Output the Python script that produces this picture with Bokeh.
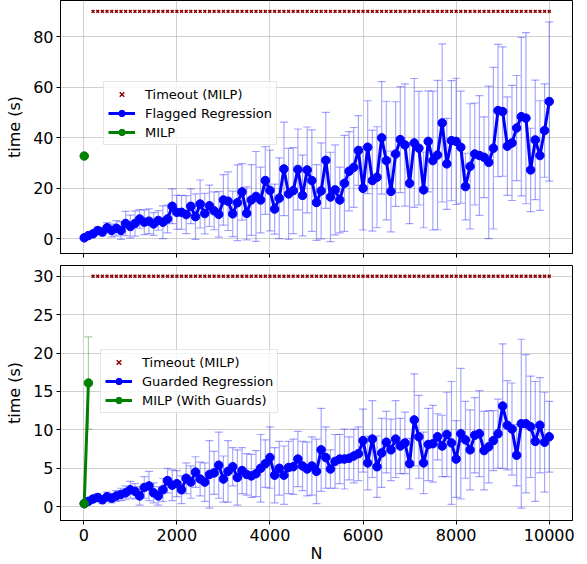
from bokeh.plotting import figure
from bokeh.layouts import column
from bokeh.models import Range1d, Legend, LegendItem, FixedTicker, ColumnDataSource
from bokeh.embed import file_html
from bokeh.resources import INLINE

# ---------------- data ----------------
n_values = [10] + list(range(100, 10001, 100))
timeout_n = list(range(200, 10001, 100))
timeout_top = 90
timeout_bottom = 30

flagged_mean = [
    0.3, 1.2, 1.9, 3.2, 2.6, 4.3, 3.2, 4.1, 3.2, 6.0,
    4.8, 6.0, 7.8, 6.5, 6.9, 5.8, 7.2, 6.5, 7.8, 12.8,
    10.4, 10.4, 9.5, 12.8, 8.7, 13.7, 9.9, 13.0, 11.0, 9.6,
    15.3, 14.8, 9.8, 14.2, 18.5, 10.0, 15.3, 16.7, 15.3, 23.0,
    19.1, 11.7, 16.0, 27.6, 17.7, 19.0, 27.4, 17.1, 27.2, 23.0,
    14.3, 18.9, 31.0, 16.5, 19.3, 15.3, 21.9, 26.7, 28.2, 34.9,
    19.9, 36.2, 23.0, 24.3, 39.9, 30.9, 18.7, 33.5, 39.2, 37.1,
    21.9, 37.9, 35.8, 19.3, 38.5, 30.9, 33.1, 45.8, 29.6, 38.8,
    38.5, 36.2, 20.6, 28.6, 33.5, 32.9, 32.2, 30.2, 35.8, 50.7,
    50.3, 36.6, 37.9, 43.8, 48.3, 47.7, 27.2, 39.1, 32.9, 42.8,
    54.3,
]
flagged_err = [
    0.3, 0.6, 1.0, 1.3, 1.5, 2.0, 2.5, 3.0, 3.5, 4.8,
    4.5, 5.0, 3.7, 4.9, 4.9, 4.5, 3.9, 6.5, 5.5, 6.9,
    6.7, 6.7, 7.5, 6.9, 9.0, 9.5, 8.0, 8.2, 7.5, 9.0,
    10.0, 11.6, 9.0, 15.0, 11.2, 10.5, 14.0, 17.8, 13.0, 13.4,
    16.0, 9.9, 16.0, 18.5, 18.0, 17.0, 16.0, 16.0, 17.0, 20.1,
    15.0, 19.0, 19.0, 17.7, 17.8, 13.0, 19.0, 15.7, 15.8, 13.8,
    16.5, 18.4, 20.0, 20.0, 22.3, 23.5, 16.0, 20.7, 21.0, 24.2,
    16.0, 25.5, 22.5, 15.0, 20.0, 27.5, 29.6, 31.3, 18.0, 23.8,
    25.0, 22.2, 13.2, 24.8, 20.2, 23.7, 16.0, 30.2, 32.0, 26.2,
    25.6, 19.5, 22.8, 20.8, 31.4, 33.9, 16.5, 23.7, 21.7, 18.5,
    31.5,
]

guarded_mean = [
    0.4, 0.7, 1.0, 1.2, 0.9, 1.3, 1.1, 1.4, 1.6, 1.8,
    2.2, 2.0, 1.4, 2.5, 2.7, 1.8, 1.4, 2.2, 3.4, 2.8,
    3.0, 2.2, 3.7, 3.2, 4.5, 3.6, 3.2, 4.2, 4.4, 5.4,
    3.6, 4.6, 5.2, 3.8, 4.7, 4.2, 4.0, 4.3, 5.0, 5.6,
    6.4, 4.1, 5.0, 4.1, 5.1, 5.2, 6.2, 5.3, 4.9, 5.3,
    4.6, 7.4, 6.4, 4.9, 5.9, 6.2, 6.2, 6.3, 6.6, 6.9,
    8.6, 5.7, 8.8, 5.2, 7.0, 8.4, 7.4, 8.8, 7.9, 8.3,
    5.6, 11.3, 9.1, 5.7, 8.1, 8.2, 9.1, 7.9, 9.4, 8.3,
    6.2, 9.5, 8.7, 7.4, 9.3, 9.5, 7.3, 7.8, 8.6, 9.5,
    13.1, 10.6, 10.1, 6.7, 10.8, 10.8, 10.4, 8.5, 10.6, 8.4,
    9.1,
]
guarded_err = [
    0.1, 0.3, 0.4, 0.5, 0.5, 0.6, 0.6, 0.7, 0.8, 0.9,
    1.1, 1.0, 1.2, 1.4, 1.9, 1.3, 1.2, 1.5, 1.6, 2.0,
    1.7, 1.8, 2.0, 2.1, 2.0, 2.2, 2.5, 4.4, 2.8, 4.3,
    3.0, 4.0, 2.5, 3.6, 3.0, 2.7, 2.8, 3.0, 4.4, 3.1,
    4.0, 3.6, 3.5, 3.8, 3.4, 3.6, 3.6, 3.2, 3.5, 3.8,
    4.2, 5.4, 4.0, 2.5, 3.5, 3.2, 3.9, 2.8, 3.5, 3.5,
    4.1, 3.5, 5.0, 4.0, 4.5, 4.0, 4.0, 5.0, 3.6, 4.0,
    3.3, 6.0, 5.4, 4.0, 4.7, 5.0, 3.0, 4.0, 5.5, 8.0,
    5.0, 8.5, 5.0, 5.2, 4.9, 5.6, 5.1, 4.7, 3.9, 4.5,
    8.1, 5.8, 6.0, 4.0, 11.0, 9.0, 6.6, 7.8, 6.2, 6.5,
    4.6,
]

milp_n = [10]
milp_mean = [32.7]

milp_guard_n = [10, 100]
milp_guard_mean = [0.4, 16.1]
milp_guard_err = [0.05, 6.0]

x_ticks = [0, 2000, 4000, 6000, 8000, 10000]
top_y_ticks = [0, 20, 40, 60, 80]
bottom_y_ticks = [0, 5, 10, 15, 20, 25, 30]

FONT = "DejaVu Sans"
BLUE = "#0000ff"
GREEN = "#008000"
DARKRED = "#8b0000"


def make_panel(frame_h, y_start, y_end, y_ticks, mean, err, label,
               g_n, g_mean, g_err, g_label, timeout_val, show_x, legend_loc,
               min_border_bottom):
    p = figure(frame_width=512, frame_height=frame_h,
               x_range=Range1d(-500, 10500), y_range=Range1d(y_start, y_end),
               output_backend="svg", toolbar_location=None,
               min_border_left=60, min_border_right=5, min_border_top=0,
               min_border_bottom=min_border_bottom, background_fill_color="white",
               border_fill_color="white")
    p.outline_line_color = "black"
    p.outline_line_width = 1
    p.outline_line_alpha = 1

    for ax in (p.xaxis[0], p.yaxis[0]):
        ax.major_label_text_font = FONT
        ax.major_label_text_font_size = "16px"
        ax.major_label_text_color = "black"
        ax.axis_label_text_font = FONT
        ax.axis_label_text_font_size = "16px"
        ax.axis_label_text_font_style = "normal"
        ax.axis_label_text_color = "black"
        ax.major_tick_in = 0
        ax.major_tick_out = 4
        ax.major_tick_line_color = "black"
        ax.minor_tick_line_color = None
        ax.axis_line_color = "black"
    p.xaxis.ticker = FixedTicker(ticks=x_ticks)
    p.yaxis.ticker = FixedTicker(ticks=y_ticks)
    p.yaxis.axis_label = "time (s)"
    p.yaxis.major_label_standoff = 3
    p.yaxis.axis_label_standoff = 6
    if show_x:
        p.xaxis.axis_label = "N"
        p.xaxis.major_label_standoff = 4
        p.xaxis.axis_label_standoff = 0
    else:
        # shared x axis: tick marks only, no labels
        p.xaxis.major_label_overrides = {t: "" for t in x_ticks}
        p.xaxis.major_label_text_font_size = "1px"
        p.xaxis.major_label_standoff = 0

    p.grid.grid_line_color = "#b0b0b0"
    p.grid.grid_line_alpha = 0.6
    p.grid.grid_line_width = 1

    # error bars
    lo = [m - e for m, e in zip(mean, err)]
    hi = [m + e for m, e in zip(mean, err)]
    src = ColumnDataSource(dict(x=n_values, y=mean, lo=lo, hi=hi))
    p.segment(x0="x", y0="lo", x1="x", y1="hi", source=src,
              line_color=BLUE, line_alpha=0.35, line_width=1.2)
    p.scatter(x="x", y="lo", source=src, marker="dash", size=8,
              line_color=BLUE, line_alpha=0.35, line_width=1.2)
    p.scatter(x="x", y="hi", source=src, marker="dash", size=8,
              line_color=BLUE, line_alpha=0.35, line_width=1.2)
    r_line = p.line(x="x", y="y", source=src, line_color=BLUE, line_width=3)
    r_pts = p.scatter(x="x", y="y", source=src, marker="circle", size=8.5,
                      fill_color=BLUE, line_color=BLUE)

    # MILP
    if g_err is not None:
        glo = [m - e for m, e in zip(g_mean, g_err)]
        ghi = [m + e for m, e in zip(g_mean, g_err)]
        gsrc = ColumnDataSource(dict(x=g_n, y=g_mean, lo=glo, hi=ghi))
        p.segment(x0="x", y0="lo", x1="x", y1="hi", source=gsrc,
                  line_color=GREEN, line_alpha=0.35, line_width=1.2)
        p.scatter(x="x", y="lo", source=gsrc, marker="dash", size=8,
                  line_color=GREEN, line_alpha=0.35, line_width=1.2)
        p.scatter(x="x", y="hi", source=gsrc, marker="dash", size=8,
                  line_color=GREEN, line_alpha=0.35, line_width=1.2)
    else:
        gsrc = ColumnDataSource(dict(x=g_n, y=g_mean))
    g_line = p.line(x="x", y="y", source=gsrc, line_color=GREEN, line_width=3)
    g_pts = p.scatter(x="x", y="y", source=gsrc, marker="circle", size=8.5,
                      fill_color=GREEN, line_color=GREEN)

    # timeouts
    r_to = p.scatter(x=timeout_n, y=[timeout_val] * len(timeout_n), marker="x",
                     size=4, line_color=DARKRED, line_width=1.5)

    legend = Legend(items=[
        LegendItem(label="Timeout (MILP)", renderers=[r_to]),
        LegendItem(label=label, renderers=[r_line, r_pts]),
        LegendItem(label=g_label, renderers=[g_line, g_pts]),
    ], location=legend_loc)
    legend.label_text_font = FONT
    legend.label_text_font_size = "13px"
    legend.label_text_color = "black"
    legend.glyph_width = 27
    legend.glyph_height = 16
    legend.label_height = 16
    legend.label_standoff = 10
    legend.spacing = 3
    legend.padding = 4
    legend.margin = 0
    legend.border_line_color = "#cccccc"
    legend.border_line_width = 1
    legend.background_fill_alpha = 0.8
    p.add_layout(legend)
    return p


top = make_panel(253, -5.9, 94.3, top_y_ticks, flagged_mean, flagged_err,
                 "Flagged Regression", milp_n, milp_mean, None, "MILP",
                 timeout_top, False, (43, 108), 12)
bottom = make_panel(255, -1.8, 31.4, bottom_y_ticks, guarded_mean, guarded_err,
                    "Guarded Regression", milp_guard_n, milp_guard_mean,
                    milp_guard_err, "MILP (With Guards)",
                    timeout_bottom, True, (40, 107), 0)

layout = column(top, bottom, spacing=0)
open("out.html", "w").write(file_html(layout, INLINE))
